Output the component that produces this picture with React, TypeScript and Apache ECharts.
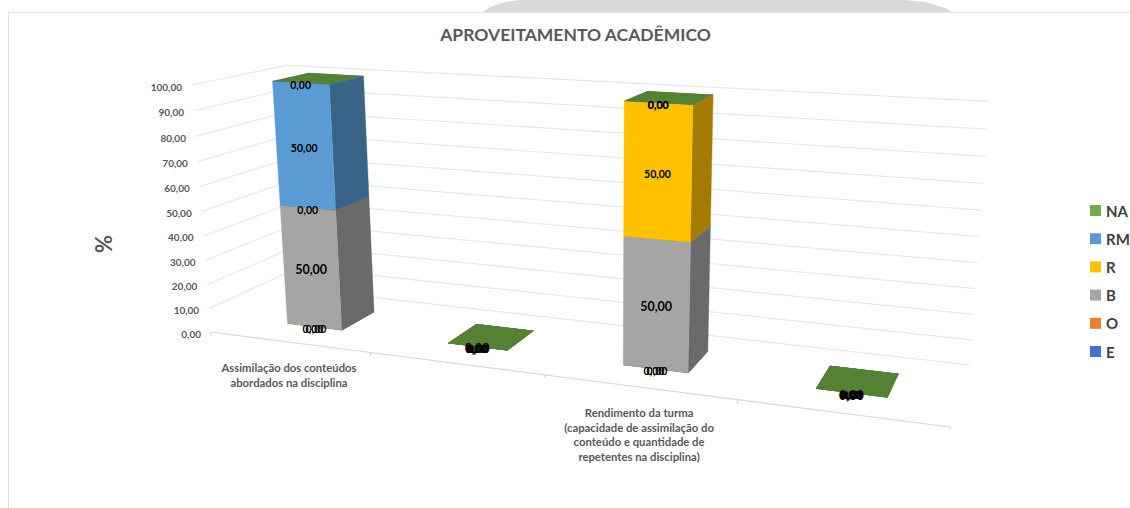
import React, { useEffect, useRef } from "react";
import * as echarts from "echarts";

const titleText = "APROVEITAMENTO ACADÊMICO";
const yAxisTitle = "%";
const categories = [
  "Assimilação dos conteúdos\nabordados na disciplina",
  "",
  "Rendimento da turma\n(capacidade de assimilação do\nconteúdo e quantidade de\nrepetentes na disciplina)",
  "",
];
const valueTicks = [0, 10, 20, 30, 40, 50, 60, 70, 80, 90, 100];

// Stack order, bottom to top
const valuesE = [0, 0, 0, 0];
const valuesO = [0, 0, 0, 0];
const valuesB = [50, 0, 50, 0];
const valuesR = [0, 0, 50, 0];
const valuesRM = [50, 0, 0, 0];
const valuesNA = [0, 0, 0, 0];

const stackNames = ["E", "O", "B", "R", "RM", "NA"];
const stackValues = [valuesE, valuesO, valuesB, valuesR, valuesRM, valuesNA];
const stackColors = ["#4472C4", "#ED7D31", "#A5A5A5", "#FFC000", "#5B9BD5", "#70AD47"];
const labelSizes = [10.5, 10.5, 12.5, 10.5, 10.5, 10.5];
const labelNudges = [-1.5, 1.5, 0, 0, 0, 0];
const legendOrder = ["NA", "RM", "R", "B", "O", "E"];

// Perspective camera of the 3D chart: (u, depth, v) in unit cube -> page pixels
const CAM = [
  [573.8, 121.45, -27.86, 211],
  [20.77, -11.74, -250.92, 332],
  [-0.17385, 0.10818, -0.04617, 1],
];
const project = (u: number, d: number, v: number): number[] => {
  const w = CAM[2][0] * u + CAM[2][1] * d + CAM[2][2] * v + CAM[2][3];
  return [
    (CAM[0][0] * u + CAM[0][1] * d + CAM[0][2] * v + CAM[0][3]) / w,
    (CAM[1][0] * u + CAM[1][1] * d + CAM[1][2] * v + CAM[1][3]) / w,
  ];
};
const BAR_WIDTH = 0.35; // fraction of a category band
const BAR_SKEW = 0.004; // small perspective correction of bar centres
const DEPTH_FRONT = 0.31;
const DEPTH_BACK = 0.71;
const FONT = "Lato, 'Open Sans', sans-serif";
const GRID_COLOR = "#E8E8E8";
const AXIS_TEXT = "#595959";

const fmt = (n: number) => n.toFixed(2).replace(".", ",");
const shade = (hex: string, k: number) => {
  const n = parseInt(hex.slice(1), 16);
  const c = [(n >> 16) & 255, (n >> 8) & 255, n & 255].map((x) => Math.round(x * k));
  return `rgb(${c[0]},${c[1]},${c[2]})`;
};

const toUV = (p: number[], cs: any) => [
  (p[0] - cs.x) / cs.width,
  (cs.y + cs.height - p[1]) / cs.height,
];

const renderWalls = (params: any, api: any) => {
  const cs = params.coordSys;
  const tick = api.value(1);
  const v = toUV(api.coord([0, tick]), cs)[1];
  const a = project(0, 0, v);
  const b = project(0, 1, v);
  const c = project(1, 1, v);
  const line = (p: number[], q: number[]) => ({
    type: "line",
    shape: { x1: p[0], y1: p[1], x2: q[0], y2: q[1] },
    style: { stroke: GRID_COLOR, lineWidth: 1.2, fill: "none" },
  });
  const children: any[] = [line(b, c)];
  if (tick > 0) children.push(line(a, b));
  children.push({
    type: "text",
    style: {
      text: fmt(tick),
      x: a[0] - 10,
      y: a[1] + 1.5,
      align: "right",
      verticalAlign: "middle",
      fontFamily: FONT,
      fontWeight: "bold",
      fontSize: 10,
      fill: AXIS_TEXT,
    },
  });
  return { type: "group", children };
};

const renderFloor = (params: any, api: any) => {
  const cs = params.coordSys;
  const cat = api.value(0);
  const band = api.size([1, 0])[0] / cs.width;
  const uMid = toUV(api.coord([cat, 0]), cs)[0];
  const u0 = uMid - band / 2;
  const u1 = uMid + band / 2;
  const p0 = project(u0, 0, 0);
  const p1 = project(u1, 0, 0);
  const pm = project(uMid, 0, 0);
  const stroke = { stroke: "#D9D9D9", lineWidth: 1.2, fill: "none" };
  const children: any[] = [
    { type: "line", shape: { x1: p0[0], y1: p0[1], x2: p1[0], y2: p1[1] }, style: stroke },
    { type: "line", shape: { x1: p0[0], y1: p0[1], x2: p0[0], y2: p0[1] + 3.5 }, style: stroke },
    { type: "line", shape: { x1: p1[0], y1: p1[1], x2: p1[0], y2: p1[1] + 3.5 }, style: stroke },
  ];
  const text = categories[cat];
  if (text) {
    children.push({
      type: "text",
      style: {
        text,
        x: pm[0],
        y: pm[1] + 18,
        align: "center",
        verticalAlign: "top",
        lineHeight: 14.7,
        fontFamily: FONT,
        fontWeight: "bold",
        fontSize: 11.3,
        fill: AXIS_TEXT,
      },
    });
  }
  return { type: "group", children };
};

const makeBoxRenderer = (idx: number) => (params: any, api: any) => {
  const cs = params.coordSys;
  const cat = api.value(0);
  const pBase = api.coord([cat, api.value(1)]);
  const pTop = api.coord([cat, api.value(2)]);
  const half = (api.size([1, 0])[0] / cs.width) * (BAR_WIDTH / 2);
  const [uBand, v0] = toUV(pBase, cs);
  const uMid = uBand - BAR_SKEW * (1 - uBand);
  const v1 = toUV(pTop, cs)[1];
  const uL = uMid - half;
  const uR = uMid + half;
  const color = stackColors[idx];
  const flat = api.value(3) === 0;
  const poly = (pts: number[][], fill: string) => ({
    type: "polygon",
    shape: { points: pts },
    style: flat ? { fill } : { fill, stroke: fill, lineWidth: 0.4 },
  });
  const children: any[] = [];
  if (!flat) {
    children.push(
      poly(
        [project(uR, DEPTH_FRONT, v0), project(uR, DEPTH_BACK, v0), project(uR, DEPTH_BACK, v1), project(uR, DEPTH_FRONT, v1)],
        shade(color, 0.64)
      ),
      poly(
        [project(uL, DEPTH_FRONT, v0), project(uR, DEPTH_FRONT, v0), project(uR, DEPTH_FRONT, v1), project(uL, DEPTH_FRONT, v1)],
        color
      )
    );
  }
  children.push(
    poly(
      [project(uL, DEPTH_FRONT, v1), project(uR, DEPTH_FRONT, v1), project(uR, DEPTH_BACK, v1), project(uL, DEPTH_BACK, v1)],
      shade(color, 0.75)
    )
  );
  const lp = project(uMid, DEPTH_FRONT, (v0 + v1) / 2);
  children.push({
    type: "text",
    z2: 100,
    style: {
      text: fmt(api.value(3)),
      x: lp[0] + labelNudges[idx],
      y: lp[1] + 2,
      align: "center",
      verticalAlign: "middle",
      fontFamily: FONT,
      fontWeight: "bold",
      fontSize: labelSizes[idx],
      fill: "#000000",
    },
  });
  return { type: "group", children };
};

// Cumulative stack, computed from the values above
const stackSeries = () => {
  const running = categories.map(() => 0);
  return stackNames.map((name, idx) => ({
    type: "custom",
    name,
    coordinateSystem: "cartesian2d",
    itemStyle: { color: stackColors[idx] },
    encode: { x: 0, y: [1, 2] },
    renderItem: makeBoxRenderer(idx),
    data: stackValues[idx].map((val, c) => {
      const base = running[c];
      running[c] += val;
      return [c, base, running[c], val];
    }),
  }));
};

export default function App() {
  const ref = useRef<HTMLDivElement>(null);
  useEffect(() => {
    if (!ref.current) return;
    const chart = echarts.init(ref.current, null, { renderer: "svg" });
    chart.setOption({
      animation: false,
      backgroundColor: "#FFFFFF",
      title: {
        text: titleText,
        left: 570.5,
        top: 20,
        textAlign: "center",
        textStyle: { fontFamily: FONT, fontWeight: "bold", fontSize: 17.5, color: AXIS_TEXT },
      },
      legend: {
        orient: "vertical",
        left: 1090,
        top: 203,
        padding: 0,
        icon: "rect",
        itemWidth: 11,
        itemHeight: 11,
        itemGap: 13.2,
        selectedMode: false,
        data: legendOrder,
        textStyle: { fontFamily: FONT, fontWeight: "bold", fontSize: 15, color: "#404040" },
      },
      grid: { left: 211, top: 85, width: 739, height: 247 },
      xAxis: { type: "category", data: categories, show: false },
      yAxis: { type: "value", min: 0, max: 100, interval: 10, show: false },
      graphic: [
        {
          type: "polygon",
          shape: {
            points: [
              [483, 12], [490, 7], [505, 2], [520, 0], [905, 0], [925, 2], [945, 8], [952, 12],
            ],
          },
          style: { fill: "#D9D9D9" },
        },
        {
          type: "polyline",
          shape: { points: [[8.5, 508], [8.5, 12.5], [1130, 12.5]] },
          style: { stroke: "#E3E3E3", fill: "none", lineWidth: 1 },
        },
        {
          type: "text",
          x: 103,
          y: 244,
          rotation: Math.PI / 2,
          style: {
            text: yAxisTitle,
            align: "center",
            verticalAlign: "middle",
            fontFamily: FONT,
            fontWeight: "bold",
            fontSize: 22,
            fill: AXIS_TEXT,
          },
        },
      ],
      series: [
        {
          type: "custom",
          name: "walls",
          coordinateSystem: "cartesian2d",
          renderItem: renderWalls,
          encode: { x: 0, y: 1 },
          data: valueTicks.map((t) => [0, t]),
          silent: true,
        },
        {
          type: "custom",
          name: "floor",
          coordinateSystem: "cartesian2d",
          renderItem: renderFloor,
          encode: { x: 0, y: 1 },
          data: categories.map((_, i) => [i, 0]),
          silent: true,
        },
        ...stackSeries(),
      ],
    });
    return () => chart.dispose();
  }, []);
  return <div ref={ref} style={{ position: "fixed", left: 0, top: 0, width: 1130, height: 508 }} />;
}
